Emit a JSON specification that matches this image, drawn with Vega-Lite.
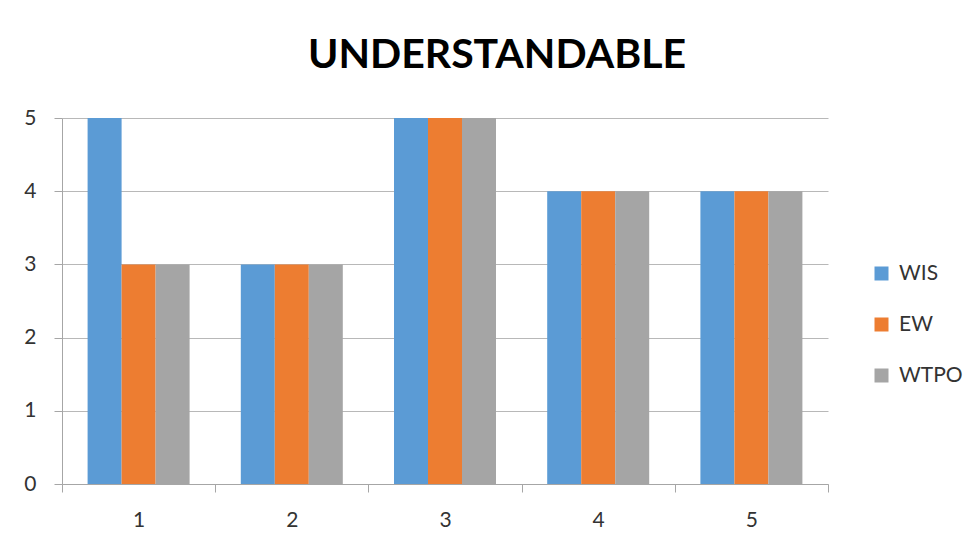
{
  "$schema": "https://vega.github.io/schema/vega-lite/v6.json",
  "width": 766,
  "height": 366,
  "autosize": {"type": "none"},
  "padding": {"left": 62, "top": 118, "right": 148, "bottom": 63},
  "background": "white",
  "title": {
    "text": "UNDERSTANDABLE",
    "font": "Lato",
    "fontSize": 41,
    "fontWeight": "bold",
    "color": "#000000",
    "anchor": "middle",
    "dx": 52,
    "offset": 30
  },
  "data": {
    "values": [
      {"category": "1", "series": "WIS", "value": 5},
      {"category": "1", "series": "EW", "value": 3},
      {"category": "1", "series": "WTPO", "value": 3},
      {"category": "2", "series": "WIS", "value": 3},
      {"category": "2", "series": "EW", "value": 3},
      {"category": "2", "series": "WTPO", "value": 3},
      {"category": "3", "series": "WIS", "value": 5},
      {"category": "3", "series": "EW", "value": 5},
      {"category": "3", "series": "WTPO", "value": 5},
      {"category": "4", "series": "WIS", "value": 4},
      {"category": "4", "series": "EW", "value": 4},
      {"category": "4", "series": "WTPO", "value": 4},
      {"category": "5", "series": "WIS", "value": 4},
      {"category": "5", "series": "EW", "value": 4},
      {"category": "5", "series": "WTPO", "value": 4}
    ]
  },
  "mark": {"type": "bar"},
  "encoding": {
    "x": {
      "field": "category",
      "type": "nominal",
      "scale": {"paddingInner": 0, "paddingOuter": 0},
      "axis": {
        "title": null,
        "labelAngle": 0,
        "tickBand": "extent",
        "grid": false,
        "domainColor": "#a6a6a6",
        "tickColor": "#a6a6a6",
        "tickSize": 8,
        "labelPadding": 17,
        "labelFont": "Lato",
        "labelFontSize": 21,
        "labelColor": "#333333"
      }
    },
    "xOffset": {
      "field": "series",
      "type": "nominal",
      "sort": ["WIS", "EW", "WTPO"],
      "scale": {"paddingInner": 0, "paddingOuter": 0.753}
    },
    "y": {
      "field": "value",
      "type": "quantitative",
      "scale": {"domain": [0, 5], "nice": false},
      "axis": {
        "title": null,
        "values": [0, 1, 2, 3, 4, 5],
        "grid": true,
        "gridColor": "#b8b8b8",
        "domainColor": "#a6a6a6",
        "tickColor": "#a6a6a6",
        "tickSize": 8,
        "labelPadding": 18,
        "labelFont": "Lato",
        "labelFontSize": 21,
        "labelColor": "#333333"
      }
    },
    "color": {
      "field": "series",
      "type": "nominal",
      "sort": ["WIS", "EW", "WTPO"],
      "scale": {"domain": ["WIS", "EW", "WTPO"], "range": ["#5B9BD5", "#ED7D31", "#A5A5A5"]},
      "legend": {
        "title": null,
        "orient": "none",
        "legendX": 809,
        "legendY": 145,
        "symbolType": "square",
        "symbolSize": 196,
        "symbolStrokeWidth": 0,
        "labelFont": "Lato",
        "labelFontSize": 21,
        "labelColor": "#333333",
        "labelOffset": 7,
        "rowPadding": 29
      }
    }
  },
  "config": {
    "view": {"stroke": null},
    "axis": {"domainWidth": 1, "tickWidth": 1, "gridWidth": 1}
  }
}
